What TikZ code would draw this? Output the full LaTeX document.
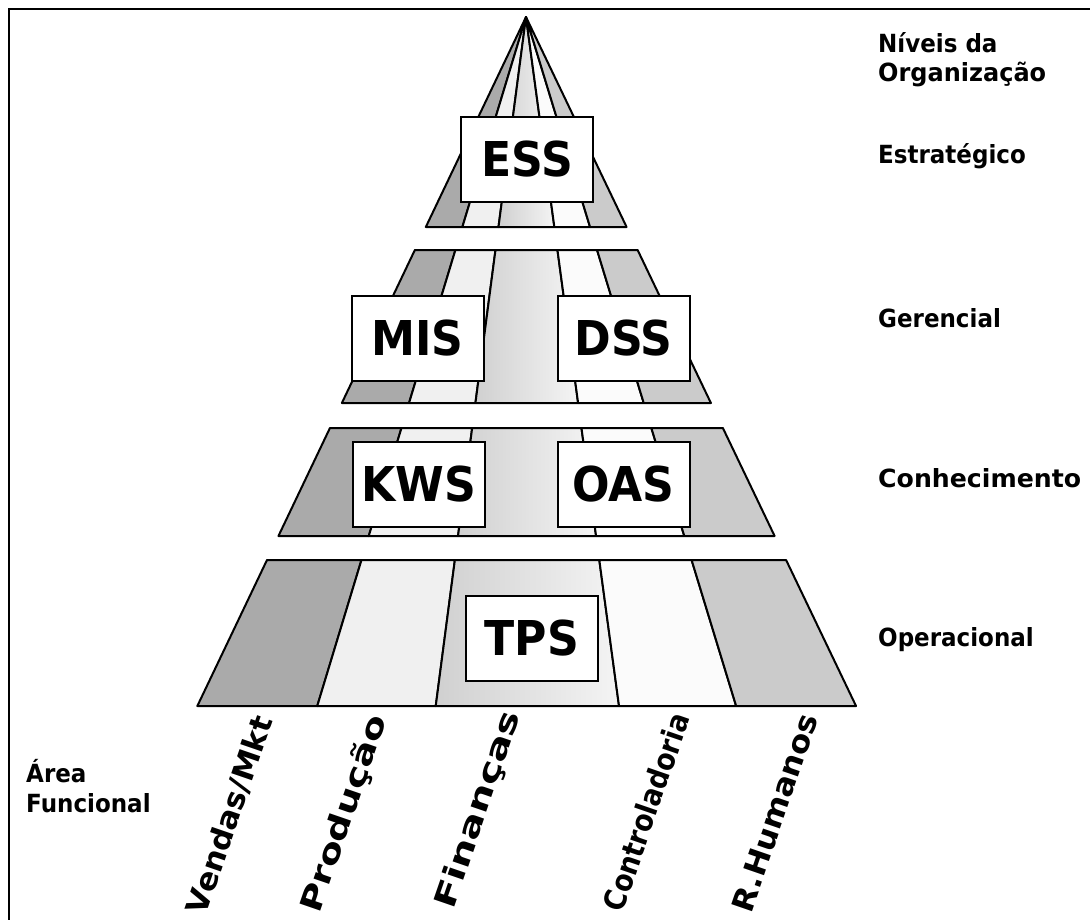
\documentclass[tikz,border=0pt]{standalone}
\usepackage{fontspec}
\setmainfont{DejaVu Sans}[FakeStretch=0.92]
\usepackage{graphicx}
\definecolor{shA}{HTML}{AAAAAA}
\definecolor{shB}{HTML}{F0F0F0}
\definecolor{shCa}{HTML}{D0D0D0}
\definecolor{shCb}{HTML}{F4F4F4}
\definecolor{shD}{HTML}{FBFBFB}
\definecolor{shE}{HTML}{CBCBCB}
\begin{document}
\begin{tikzpicture}[x=1pt,y=-1pt,
  outline/.style={draw=black, line width=2pt, line join=round},
  col1/.style={outline, fill=shA},
  col2/.style={outline, fill=shB},
  col3/.style={outline, left color=shCa, right color=shCb},
  col4/.style={outline, fill=shD},
  col5/.style={outline, fill=shE},
  sysbox/.style={draw=black, line width=2pt, fill=white, minimum width=132pt,
    minimum height=85pt, inner sep=0pt, font=\fontsize{48}{48}\selectfont\bfseries},
  lvl/.style={anchor=base west, inner sep=0pt, font=\fontsize{25}{29}\selectfont\bfseries},
  areatxt/.style={rotate=71, inner sep=0pt, font=\fontsize{30}{30}\selectfont\bfseries}]
\clip (0,0) rectangle (1090,919);
\useasboundingbox (0,0) rectangle (1090,919);

% frame
\draw[line width=2.5pt, line join=miter] (9,930) -- (9,9) -- (1100,9);

% pyramid: four bands, five columns each, all edges radiating from the apex (526,17)
\foreach \yt/\yb in {17/227, 250/403, 428/536, 560/706} {
  \foreach \ka/\kb [count=\c] in {-0.477/-0.303, -0.303/-0.131, -0.131/0.135, 0.135/0.305, 0.305/0.479} {
    \path[col\c] ({526+(\ka)*(\yt-17)},\yt) -- ({526+(\kb)*(\yt-17)},\yt)
      -- ({526+(\kb)*(\yb-17)},\yb) -- ({526+(\ka)*(\yb-17)},\yb) -- cycle;
  }
}

% information systems
\node[sysbox] (ess) at (527,159.5) {ESS};
\node[sysbox] (mis) at (417.5,338) {MIS};
\node[sysbox] (dss) at (623.5,338) {DSS};
\node[sysbox] (kws) at (419,484) {KWS};
\node[sysbox] (oas) at (623.5,484) {OAS};
\node[sysbox] (tps) at (532,638) {TPS};

% organisation levels
\node[lvl] (niv1) at (878,52) {Níveis da};
\node[lvl] (niv2) at (878,81) {\resizebox{168pt}{\height}{Organização}};
\node[lvl] (estr) at (878,163) {Estratégico};
\node[lvl] (ger) at (878,327) {Gerencial};
\node[lvl] (con) at (878,487) {\resizebox{203pt}{\height}{Conhecimento}};
\node[lvl] (ope) at (878,646) {Operacional};

% functional areas
\node[lvl] (area1) at (26,782) {Área};
\node[lvl] (area2) at (26,812) {Funcional};
\node[areatxt] (vend) at (230,815) {\resizebox{207pt}{\height}{Vendas/Mkt}};
\node[areatxt] (prod) at (345,814) {\resizebox{207pt}{\height}{Produção}};
\node[areatxt] (fin) at (479,810) {\resizebox{207pt}{\height}{Finanças}};
\node[areatxt] (ctrl) at (646,812) {\resizebox{207pt}{\height}{Controladoria}};
\node[areatxt] (rh) at (775,813) {\resizebox{207pt}{\height}{R.Humanos}};
\end{tikzpicture}
\end{document}
